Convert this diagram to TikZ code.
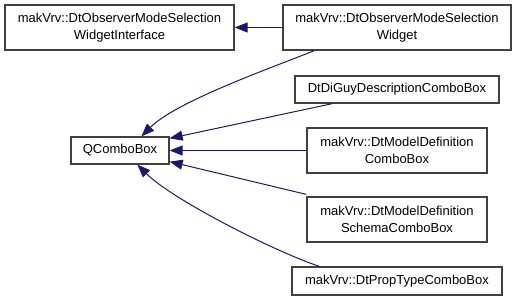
\documentclass[tikz,border=0pt]{standalone}
\usepackage{fontspec}
\setmainfont{Liberation Sans}
\usetikzlibrary{arrows.meta}
\definecolor{edgeblue}{HTML}{191970}
\definecolor{boxline}{HTML}{404040}

\begin{document}
\begin{tikzpicture}[x=1pt, y=-1pt, line width=1pt,
    cls/.style={draw=boxline, line width=1.25pt, fill=white, align=center, inner sep=0pt,
      font=\fontsize{13}{16.5}\selectfont},
    inh/.style={edgeblue, -{Triangle[length=13pt,width=10pt]}}]
  \useasboundingbox (0,0) rectangle (517,301);
  % base classes
  \node[cls, minimum width=229pt, minimum height=45pt] (iface) at (119.5,27.5)
    {makVrv::DtObserverModeSelection\\WidgetInterface};
  \node[cls, minimum width=98pt, minimum height=27pt] (qcombo) at (120,150.5) {QComboBox};
  % derived classes
  \node[cls, minimum width=228pt, minimum height=45pt] (selwidget) at (397,27.5)
    {makVrv::DtObserverModeSelection\\Widget};
  \node[cls, minimum width=204pt, minimum height=27pt] (diguy) at (397,89.5)
    {DtDiGuyDescriptionComboBox};
  \node[cls, minimum width=180pt, minimum height=45pt] (modeldef) at (397,150.5)
    {makVrv::DtModelDefinition\\ComboBox};
  \node[cls, minimum width=180pt, minimum height=45pt] (schema) at (397,219.5)
    {makVrv::DtModelDefinition\\SchemaComboBox};
  \node[cls, minimum width=210pt, minimum height=28pt] (proptype) at (397,281)
    {makVrv::DtPropTypeComboBox};
  % inheritance edges
  \draw[inh] (selwidget.west) -- (iface.east);
  \draw[inh] ([xshift=32pt]selwidget.south west)
    .. controls +(-45,18) and +(35,-35) .. ([xshift=71pt]qcombo.north west);
  \draw[inh] ([xshift=38pt]diguy.south west) -- ([yshift=-2pt]qcombo.north east);
  \draw[inh] (modeldef.west) -- (qcombo.east);
  \draw[inh] ([yshift=2pt]schema.north west) -- ([yshift=3pt]qcombo.south east);
  \draw[inh] ([xshift=28pt]proptype.north west)
    .. controls +(-45,-15) and +(35,35) .. ([xshift=67pt]qcombo.south west);
\end{tikzpicture}
\end{document}
